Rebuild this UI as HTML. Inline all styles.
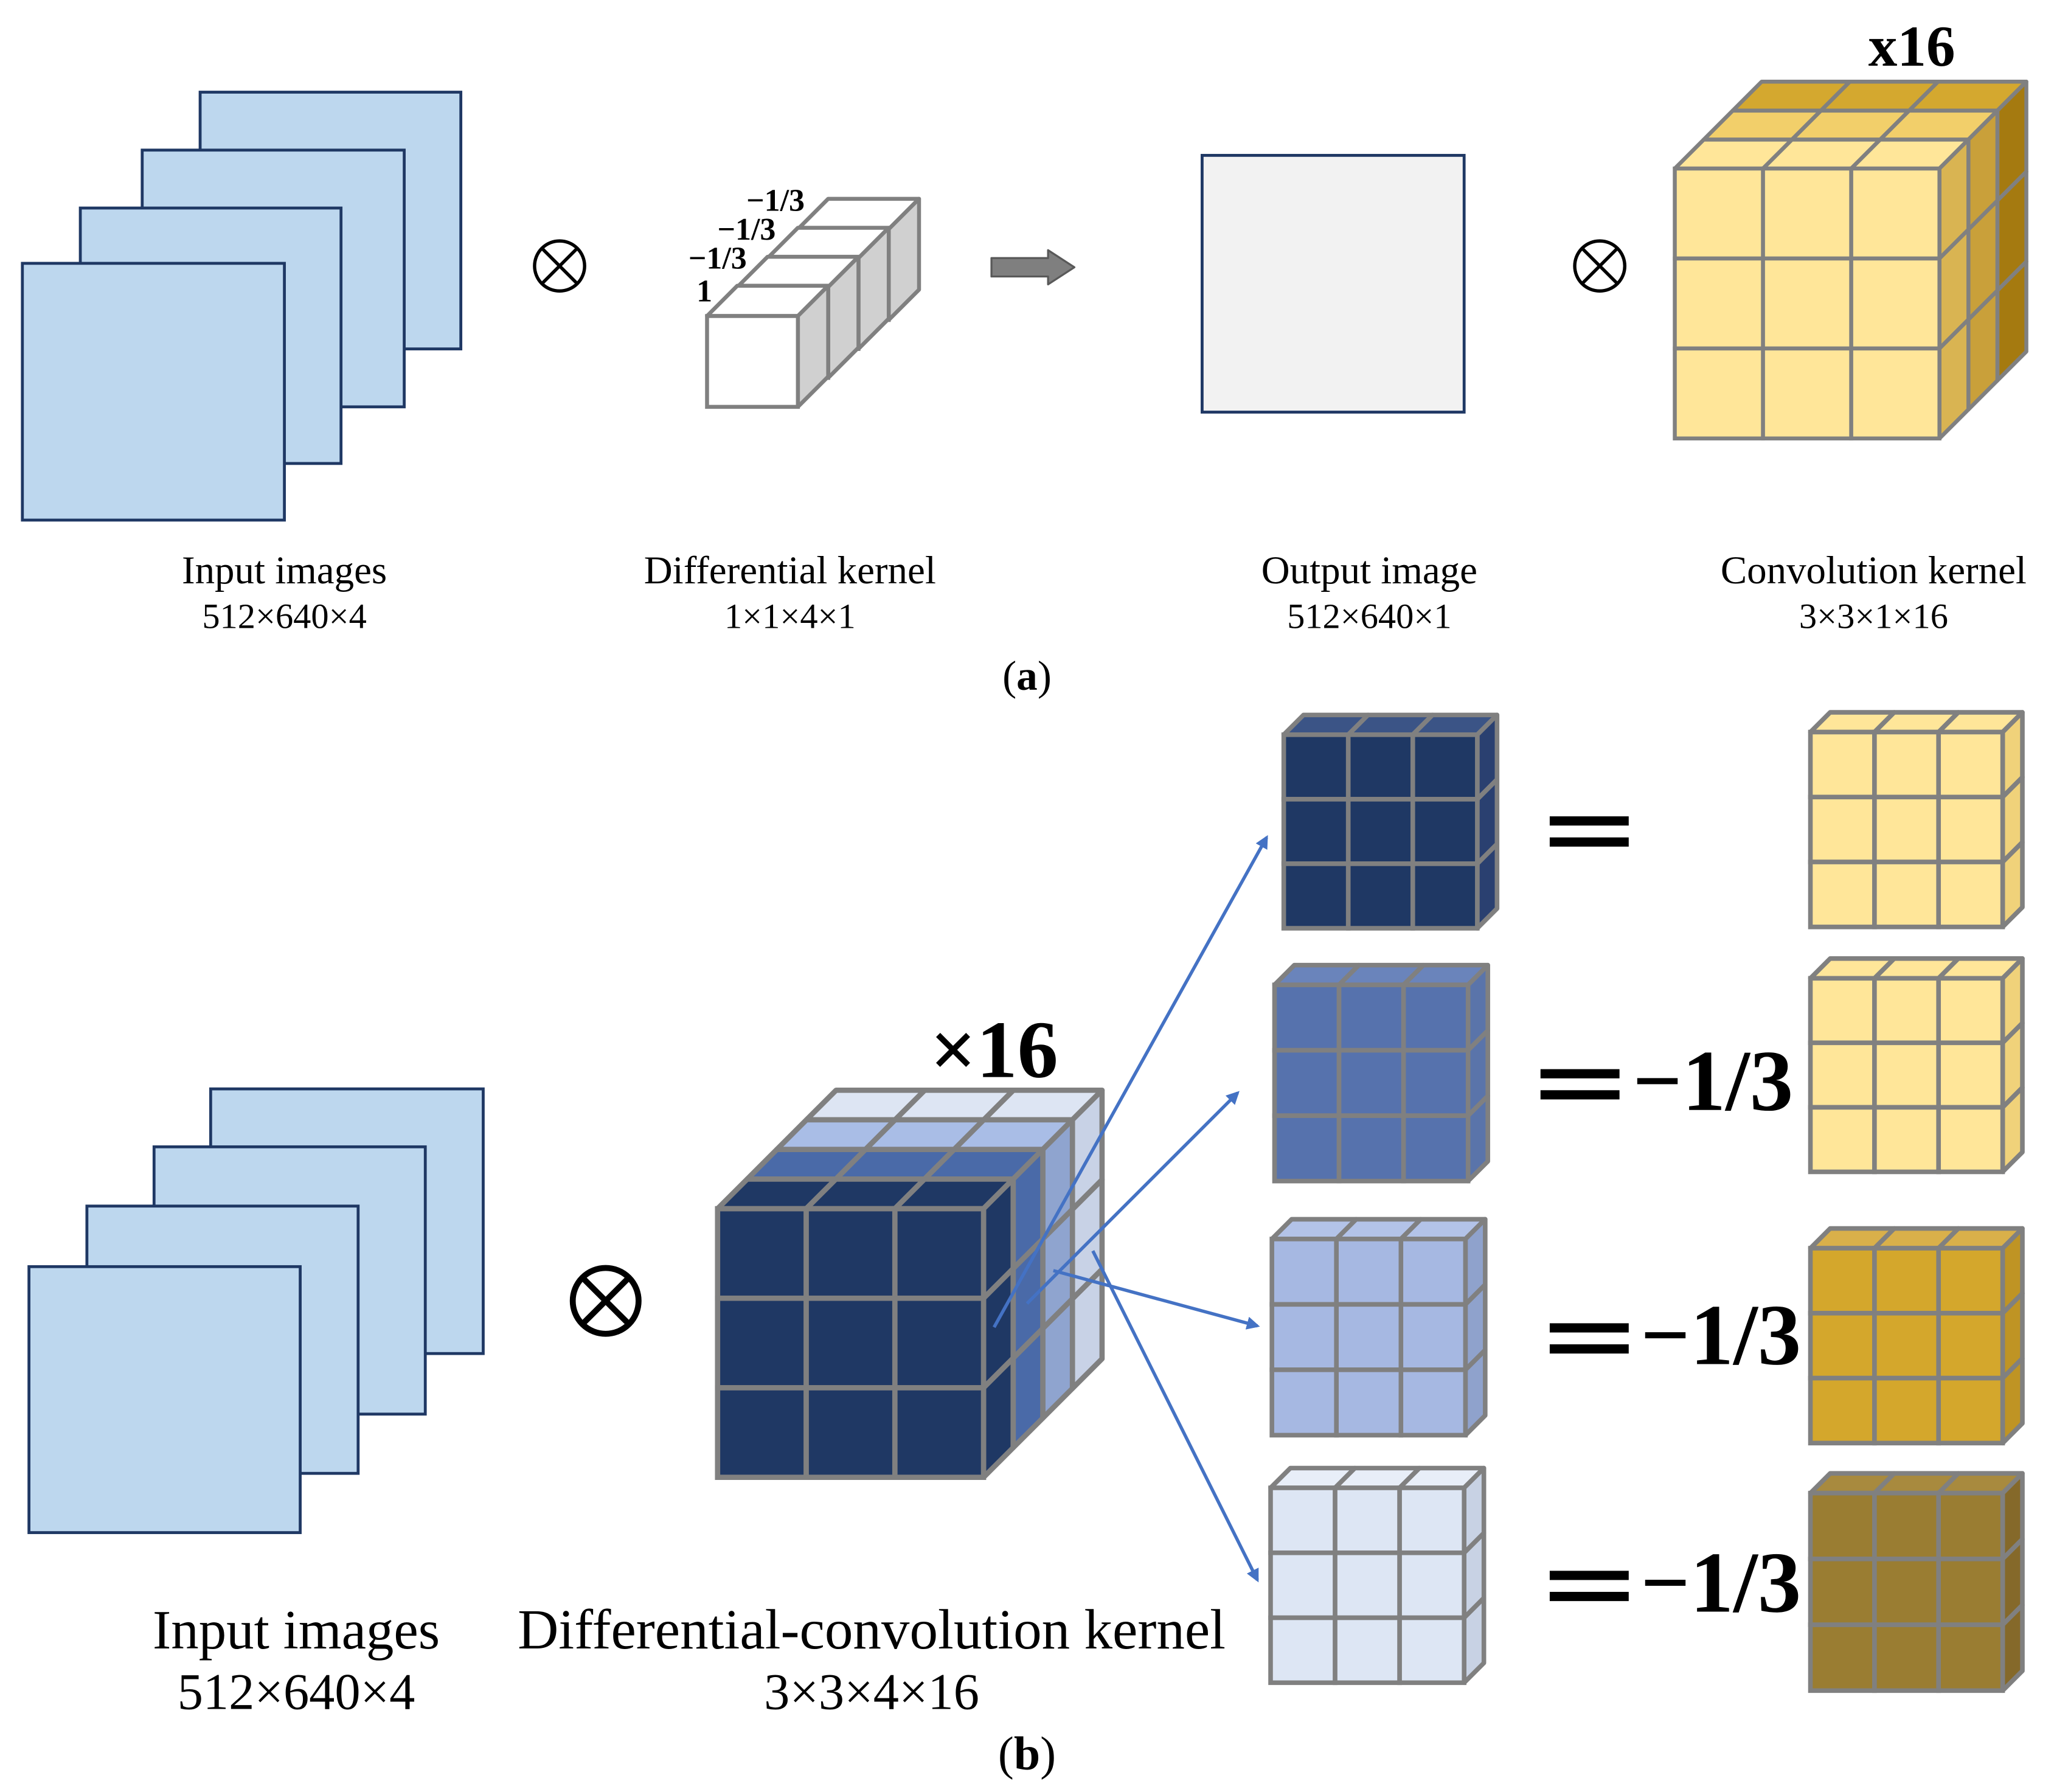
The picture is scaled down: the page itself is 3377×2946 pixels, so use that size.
<!DOCTYPE html>
<html><head><meta charset="utf-8">
<style>
html,body{margin:0;padding:0;background:#fff;}
svg{display:block;}
text{font-family:"Liberation Serif",serif;fill:#000;}
</style></head>
<body>
<svg id="s" xmlns="http://www.w3.org/2000/svg" width="3377" height="2946" viewBox="0 0 1560 1361" preserveAspectRatio="none">
<rect width="1560" height="1361" fill="#fff"/>
<g id="g"></g>
</svg>
<script>
var out='';
function P(pts,fill,st,sw){out+='<polygon points="'+pts.map(p=>p[0]+','+p[1]).join(' ')+'" fill="'+fill+'" stroke="'+st+'" stroke-width="'+sw+'" stroke-linejoin="round"/>';}
function R(x1,y1,x2,y2,fill,st,sw){out+='<rect x="'+x1+'" y="'+y1+'" width="'+(x2-x1)+'" height="'+(y2-y1)+'" fill="'+fill+'" stroke="'+st+'" stroke-width="'+sw+'"/>';}
function T(x,y,s,t,extra){out+='<text x="'+x+'" y="'+y+'" font-size="'+s+'" text-anchor="middle" '+(extra||'')+'>'+t+'</text>';}
function cube(x,y,w,h,d,c,front,tops,sides,st,sw){
  var n=tops.length;
  for(var l=n-1;l>=0;l--){
    var d0=d*l/n,d1=d*(l+1)/n;
    for(var i=0;i<c;i++){
      var a=x+w*i/c,b=x+w*(i+1)/c;
      P([[a+d0,y-d0],[b+d0,y-d0],[b+d1,y-d1],[a+d1,y-d1]],tops[l],st,sw);
    }
    for(var j=0;j<c;j++){
      var a2=y+h*j/c,b2=y+h*(j+1)/c;
      P([[x+w+d0,a2-d0],[x+w+d1,a2-d1],[x+w+d1,b2-d1],[x+w+d0,b2-d0]],sides[l],st,sw);
    }
  }
  for(var i=0;i<c;i++)for(var j=0;j<c;j++)
    R(x+w*i/c,y+h*j/c,x+w*(i+1)/c,y+h*(j+1)/c,front,st,sw);
}
function stack(rs){rs.forEach(r=>R(r[0],r[1],r[2],r[3],'#bdd7ee','#1f3864',2.2));}
function otimes(cx,cy,r,sw){out+='<circle cx="'+cx+'" cy="'+cy+'" r="'+r+'" fill="none" stroke="#000" stroke-width="'+sw+'"/>';
 var k=r*0.7;out+='<path d="M'+(cx-k)+' '+(cy-k)+'L'+(cx+k)+' '+(cy+k)+'M'+(cx+k)+' '+(cy-k)+'L'+(cx-k)+' '+(cy+k)+'" stroke="#000" stroke-width="'+sw+'"/>';}

// (a)
stack([[152,70,350,265],[108,114,307,309],[61,158,259,352],[17,200,216,395]]);
otimes(425,202,19,2.5);
for(var i=3;i>=0;i--) cube(537+23*i,240-22*i,69,69,23,1,'#fff',['#fff'],['#d0d0d0'],'#808080',3);
T(535,229,24,'1','font-weight="bold"');
T(545,204,24,'−1/3','font-weight="bold"');
T(567,182,24,'−1/3','font-weight="bold"');
T(589,160,24,'−1/3','font-weight="bold"');
P([[753,196],[796,196],[796,190],[816,203],[796,216],[796,210],[753,210]],'#7f7f7f','#595959',1.5);
R(913,118,1112,313,'#f2f2f2','#1f3864',2.2);
otimes(1215,202,19,2.5);
cube(1272,128,201,205,66,3,'#ffe699',['#ffe699','#f2cf6a','#d4a82f'],['#d9b452','#c9a03a','#a57a10'],'#808080',3);
T(1452,50,44,'x16','font-weight="bold"');
T(216,443,30,'Input images');T(216,477,27,'512×640×4');
T(600,443,30,'Differential kernel');T(600,477,27,'1×1×4×1');
T(1040,443,30,'Output image');T(1040,477,27,'512×640×1');
T(1423,443,30,'Convolution kernel');T(1423,477,27,'3×3×1×16');
T(780,524,32,'(<tspan font-weight="bold">a</tspan>)');

// (b)
stack([[160,827,367,1028],[117,871,323,1074],[66,916,272,1119],[22,962,228,1164]]);
otimes(460,988,25,4.5);
cube(545,918,202,204,90,3,'#1f3864',['#1f3864','#4a6aa8','#a9bde6','#dde5f3'],['#1f3864','#4a6aa8','#8fa4cf','#c8d2e6'],'#808080',4);
T(755,818,62,'×16','font-weight="bold"');
out+='<defs><marker id="ar" markerWidth="10" markerHeight="10" refX="8" refY="5" orient="auto" markerUnits="userSpaceOnUse"><path d="M0,0 L10,5 L0,10 z" fill="#4472c4"/></marker></defs>';
[[755,1008,962,636],[780,990,940,830],[800,965,955,1007],[830,950,955,1200]].forEach(a=>{
 out+='<line x1="'+a[0]+'" y1="'+a[1]+'" x2="'+a[2]+'" y2="'+a[3]+'" stroke="#4472c4" stroke-width="2.5" marker-end="url(#ar)"/>';});
var st='#808080';
cube(975,558,147,147,15,3,'#1f3864',['#3b5486'],['#2a4070'],st,3.5);
cube(968,748,147,149,15,3,'#5672ad',['#6a84bb'],['#5a74aa'],st,3.5);
cube(966,941,147,149,15,3,'#a6b8e2',['#b3c3e8'],['#8fa2cc'],st,3.5);
cube(965,1130,147,148,15,3,'#dde6f4',['#e8eef8'],['#c8d2e4'],st,3.5);
cube(1375,556,146,148,15,3,'#ffe699',['#ffe699'],['#f0d27a'],st,3.5);
cube(1375,743,146,147,15,3,'#ffe699',['#ffe699'],['#f0d27a'],st,3.5);
cube(1375,948,146,148,15,3,'#d4a72c',['#d9b04a'],['#bf9424'],st,3.5);
cube(1375,1134,146,150,15,3,'#9a7d32',['#a88a3e'],['#85692a'],st,3.5);
function eq(x,y,w){out+='<rect x="'+x+'" y="'+(y-10)+'" width="'+w+'" height="7" fill="#000"/><rect x="'+x+'" y="'+(y+6)+'" width="'+w+'" height="7" fill="#000"/>';}
eq(1177,630,60);
eq(1170,822,60);out+='<text x="1240" y="843" font-size="66" font-weight="bold">−1/3</text>';
eq(1177,1015,60);out+='<text x="1246" y="1036" font-size="66" font-weight="bold">−1/3</text>';
eq(1177,1203,60);out+='<text x="1246" y="1224" font-size="66" font-weight="bold">−1/3</text>';
T(225,1252,42,'Input images');T(225,1298,39,'512×640×4');
T(662,1252,43,'Differential-convolution kernel');T(662,1298,39,'3×3×4×16');
T(780,1344,36,'(<tspan font-weight="bold">b</tspan>)');
document.getElementById('g').innerHTML=out;
</script>
</body></html>
